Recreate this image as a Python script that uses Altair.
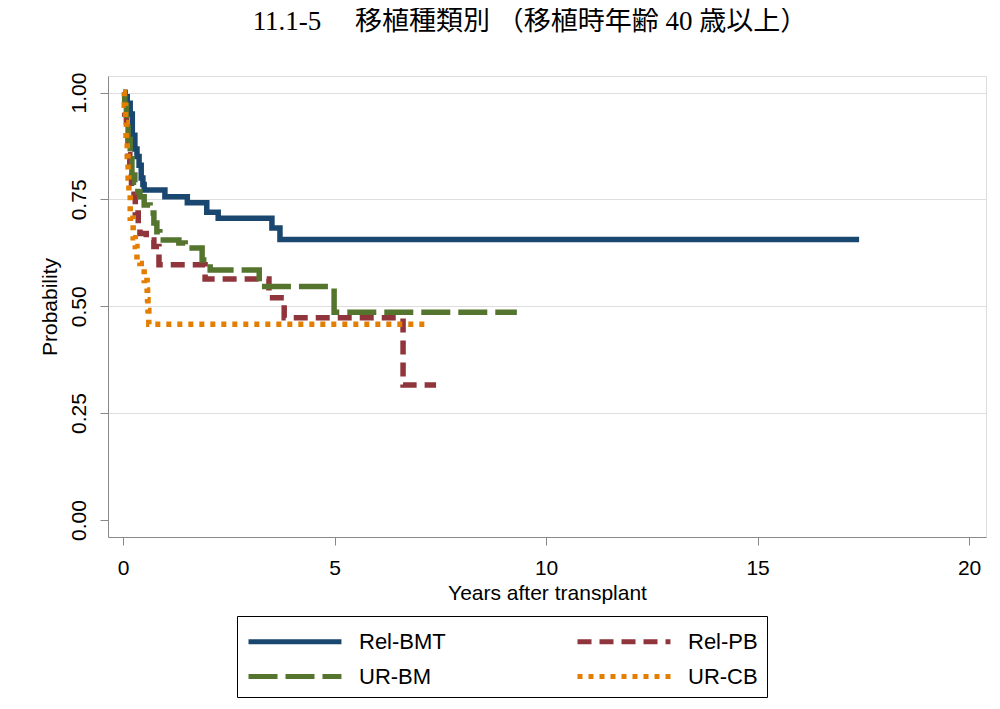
import altair as alt
import pandas as pd

groups = ["Rel-BMT", "Rel-PB", "UR-BM", "UR-CB"]
colors = ["#1a476f", "#90353b", "#55752f", "#e37e00"]
dashes = [[1, 0], [14, 8], [29, 8], [5, 6]]

relbmt_t = [0, 0.05, 0.10, 0.17, 0.22, 0.28, 0.33, 0.38, 0.43, 0.47, 0.50, 0.99, 1.52, 1.98, 2.25, 3.52, 3.71, 17.4]
relbmt_s = [1.0, 0.99, 0.975, 0.95, 0.90, 0.868, 0.85, 0.83, 0.80, 0.785, 0.772, 0.756, 0.742, 0.72, 0.706, 0.683, 0.656, 0.656]

relpb_t = [0, 0.04, 0.08, 0.12, 0.16, 0.20, 0.26, 0.29, 0.36, 0.40, 0.55, 0.73, 0.85, 1.94, 3.45, 3.81, 6.62, 7.4]
relpb_s = [1.0, 0.95, 0.90, 0.855, 0.81, 0.78, 0.76, 0.718, 0.69, 0.67, 0.655, 0.64, 0.597, 0.564, 0.52, 0.473, 0.316, 0.316]

urbm_t = [0, 0.04, 0.08, 0.12, 0.17, 0.21, 0.28, 0.35, 0.40, 0.50, 0.64, 0.73, 0.80, 0.87, 1.32, 1.47, 1.87, 2.06, 3.22, 4.99, 9.31]
urbm_s = [1.0, 0.97, 0.93, 0.89, 0.845, 0.807, 0.79, 0.767, 0.756, 0.737, 0.718, 0.695, 0.674, 0.655, 0.648, 0.636, 0.608, 0.585, 0.546, 0.486, 0.486]

urcb_t = [0, 0.03, 0.06, 0.08, 0.10, 0.12, 0.14, 0.17, 0.24, 0.29, 0.33, 0.40, 0.50, 0.57, 0.58, 0.59, 0.61, 7.23]
urcb_s = [1.0, 0.97, 0.93, 0.89, 0.85, 0.80, 0.76, 0.706, 0.66, 0.64, 0.608, 0.60, 0.56, 0.538, 0.515, 0.49, 0.458, 0.458]

x_ticks = [0, 5, 10, 15, 20]
y_ticks = [0, 0.25, 0.5, 0.75, 1.0]

rows = []
for g, ts, ss in [("Rel-BMT", relbmt_t, relbmt_s), ("Rel-PB", relpb_t, relpb_s),
                  ("UR-BM", urbm_t, urbm_s), ("UR-CB", urcb_t, urcb_s)]:
    for i, (t, s) in enumerate(zip(ts, ss)):
        rows.append({"group": g, "t": t, "s": s, "i": i})
df = pd.DataFrame(rows)

font = "Liberation Sans"

legend_opts = dict(title=None, orient="none", legendX=129, legendY=540, direction="horizontal",
                   columns=2, symbolType="M-1,0H5.64", symbolSize=784,
                   symbolStrokeWidth=5, symbolFillColor="transparent",
                   labelFontSize=22, labelFont=font, labelColor="black",
                   labelOffset=80, strokeColor="black", padding=9,
                   rowPadding=7, columnPadding=121)

chart = alt.Chart(df).mark_line(
    interpolate="step-after", strokeWidth=5.5, strokeCap="butt", clip=True
).encode(
    x=alt.X("t:Q", scale=alt.Scale(domain=[-0.355, 20.4], nice=False, zero=False),
            axis=alt.Axis(values=x_ticks, format="d", title="Years after transplant",
                          grid=False, labelFontSize=21, titleFontSize=21,
                          titleFontWeight="normal",
                          labelPadding=12, titlePadding=4, tickSize=8)),
    y=alt.Y("s:Q", scale=alt.Scale(domain=[-0.0398, 1.0386], nice=False, zero=False),
            axis=alt.Axis(values=y_ticks, format=".2f", title="Probability",
                          labelAngle=270, labelAlign="center", labelBaseline="bottom",
                          labelFontSize=21, titleFontSize=21, titleFontWeight="normal",
                          labelPadding=11, titlePadding=8, tickSize=8, grid=True,
                          gridOpacity=alt.condition("datum.value == 0", alt.value(0), alt.value(1)))),
    color=alt.Color("group:N", scale=alt.Scale(domain=groups, range=colors),
                    legend=alt.Legend(**legend_opts)),
    strokeDash=alt.StrokeDash("group:N", scale=alt.Scale(domain=groups, range=dashes),
                              legend=alt.Legend(**legend_opts)),
    order="i:Q",
).properties(
    width=878, height=461,
    title=alt.TitleParams(text="11.1-5　 移植種類別 （移植時年齢 40 歳以上）",
                          font="Liberation Serif, Noto Sans CJK JP", fontSize=27,
                          fontWeight="normal", color="black", anchor="middle",
                          frame="group", dx=-17, offset=36),
    autosize="none",
    padding={"left": 100, "top": 68, "right": 4, "bottom": 162},
).configure_axis(
    labelFont=font, titleFont=font, titleFontWeight="normal",
    labelColor="black", titleColor="black",
    domainColor="black", domainWidth=1.5, tickColor="black", tickWidth=1.5,
    gridColor="#e2ebef", gridWidth=2,
).configure_view(stroke=None).configure(background="white")

chart.save("out.html", embed_options={"renderer": "svg", "actions": False})
